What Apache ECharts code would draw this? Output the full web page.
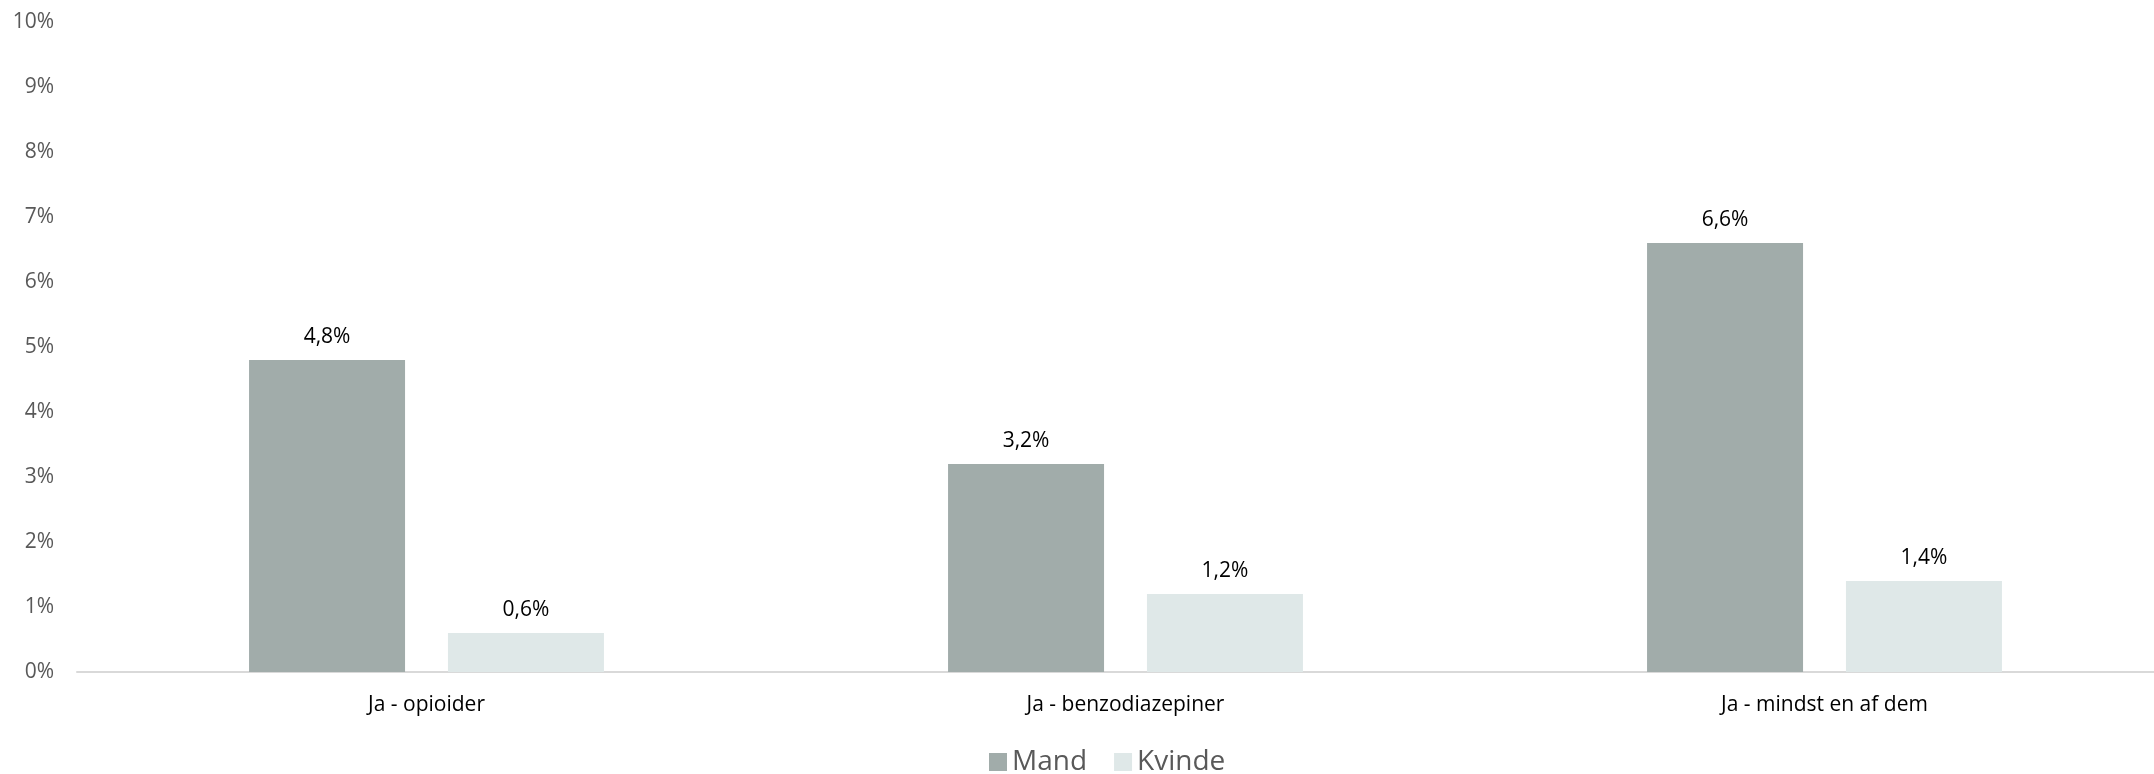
<!DOCTYPE html>
<html>
<head>
<meta charset="utf-8">
<script src="https://cdn.jsdelivr.net/npm/echarts@6/dist/echarts.min.js"></script>
<style>
html,body{margin:0;padding:0;background:#fff;overflow:hidden;width:2154px;height:774px;}
#chart{width:2174px;height:774px;}
</style>
</head>
<body>
<div id="chart"></div>
<script>
const categories = ['Ja - opioider', 'Ja - benzodiazepiner', 'Ja - mindst en af dem'];
const mandValues = [4.8, 3.2, 6.6];
const kvindeValues = [0.6, 1.2, 1.4];
const seriesNames = ['Mand', 'Kvinde'];
const yTicks = [0, 1, 2, 3, 4, 5, 6, 7, 8, 9, 10];

const FONT = '"Open Sans", "Noto Sans", sans-serif';
const chart = echarts.init(document.getElementById('chart'), null, {renderer: 'canvas'});

const labelCfg = {
  show: true,
  position: 'top',
  distance: 12,
  color: '#000000',
  fontFamily: FONT,
  fontSize: 21,
  formatter: p => p.value.toFixed(1).replace('.', ',') + '%'
};

chart.setOption({
  animation: false,
  backgroundColor: '#ffffff',
  grid: {left: 77, top: 22, right: 0, bottom: 102, containLabel: false},
  legend: {
    data: seriesNames,
    left: 984,
    top: 743,
    itemWidth: 18,
    itemHeight: 18,
    itemGap: 27,
    icon: 'rect',
    textStyle: {color: '#595959', fontFamily: FONT, fontSize: 28, padding: [0, 0, 0, 0]}
  },
  xAxis: {
    type: 'category',
    data: categories,
    axisLine: {show: true, lineStyle: {color: '#d9d9d9', width: 2}},
    axisTick: {show: false},
    axisLabel: {color: '#000000', fontFamily: FONT, fontSize: 21, margin: 23}
  },
  yAxis: {
    type: 'value',
    min: yTicks[0],
    max: yTicks[yTicks.length - 1],
    interval: 1,
    splitLine: {show: false},
    axisLine: {show: false},
    axisTick: {show: false},
    axisLabel: {color: '#595959', fontFamily: FONT, fontSize: 21, margin: 23, formatter: v => v + '%'}
  },
  series: [
    {
      name: seriesNames[0],
      type: 'bar',
      data: mandValues,
      barWidth: 156,
      barGap: '27.5%',
      itemStyle: {color: '#a1acaa'},
      label: labelCfg
    },
    {
      name: seriesNames[1],
      type: 'bar',
      data: kvindeValues,
      barWidth: 156,
      barGap: '27.5%',
      itemStyle: {color: '#dfe8e8'},
      label: labelCfg
    }
  ]
});
</script>
</body>
</html>
